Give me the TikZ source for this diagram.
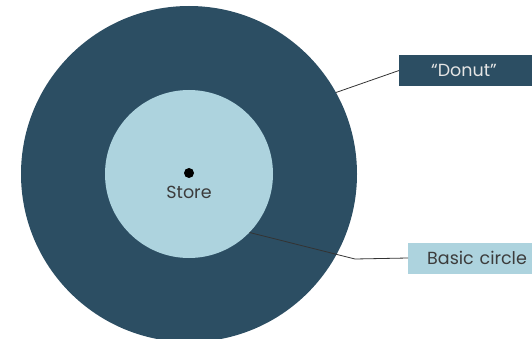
\documentclass[tikz,border=0pt]{standalone}
\usepackage{fontspec}
\setmainfont{Poppins}
\usetikzlibrary{positioning}
\definecolor{darkring}{RGB}{44,78,99}
\definecolor{lightdisc}{RGB}{173,211,222}
\definecolor{labeltext}{RGB}{60,60,60}
\tikzset{
  ring/.style={circle, fill=darkring, inner sep=0pt, minimum size=336pt},
  disc/.style={circle, fill=lightdisc, inner sep=0pt, minimum size=168pt},
  tag/.style={anchor=west, inner sep=0pt, minimum height=31pt, align=left, font=\fontsize{17.5}{20}\selectfont},
  leader/.style={draw=black!80, line width=0.8pt}
}
\begin{document}
\begin{tikzpicture}[x=1pt,y=-1pt]
\useasboundingbox (0,0) rectangle (532,339);
\node[ring] (donut) at (189,174) {};
\node[disc] (basic) at (189,174) {};
\fill (189,173) circle (5pt);
\node[font=\fontsize{17.5}{20}\selectfont, text=labeltext] (store) at (189,192) {Store};
\node[tag, fill=darkring, text=white!90!black, text width=133pt] (donuttag) at (399,70.5) {\hspace*{32pt}“Donut”};
\node[tag, fill=lightdisc, text=labeltext, text width=130pt] (basictag) at (408,258) {\hspace*{19pt}Basic circle};
\draw[leader] (donut.29) -- (donuttag.west);
\draw[leader] (basic.-44) -- (355,259) -- (basictag.west);
\end{tikzpicture}
\end{document}
